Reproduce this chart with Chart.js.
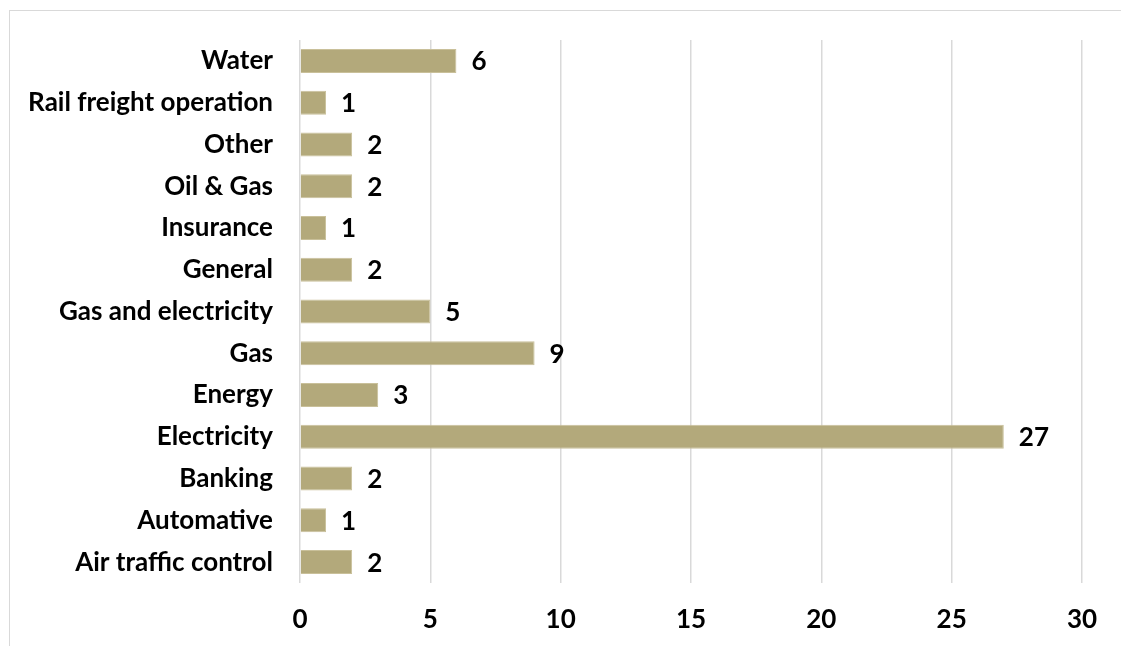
<!DOCTYPE html>
<html>
<head>
<meta charset="utf-8">
<script src="https://cdn.jsdelivr.net/npm/chart.js@4"></script>
<style>
  html, body { margin: 0; padding: 0; background: #fff; }
  #wrap { position: relative; width: 1121px; height: 646px; overflow: hidden; }
  #frame { position: absolute; left: 9px; top: 10px; width: 1130px; height: 660px;
           border-left: 1px solid #d9d9d9; border-top: 1px solid #d9d9d9; }
  canvas { position: absolute; left: 0; top: 0; }
</style>
</head>
<body>
<div id="wrap">
  <div id="frame"></div>
  <canvas id="chart" width="1121" height="646"></canvas>
</div>
<script>
const categories = [
  "Water",
  "Rail freight operation",
  "Other",
  "Oil & Gas",
  "Insurance",
  "General",
  "Gas and electricity",
  "Gas",
  "Energy",
  "Electricity",
  "Banking",
  "Automative",
  "Air traffic control",
];
const counts = [6, 1, 2, 2, 1, 2, 5, 9, 3, 27, 2, 1, 2];
const xTicks = [0, 5, 10, 15, 20, 25, 30];

const fontFamily = "Lato, 'Open Sans', sans-serif";

const barLabels = {
  id: "barLabels",
  afterDatasetsDraw(chart) {
    const ctx = chart.ctx;
    const meta = chart.getDatasetMeta(0);
    ctx.save();
    ctx.font = "bold 26px " + fontFamily;
    ctx.fillStyle = "#000";
    ctx.textAlign = "left";
    ctx.textBaseline = "middle";
    meta.data.forEach((bar, i) => {
      ctx.fillText(String(counts[i]), bar.x + 15, bar.y + 1);
    });
    ctx.restore();
  },
};

const ctx = document.getElementById("chart").getContext("2d");
new Chart(ctx, {
  type: "bar",
  data: {
    labels: categories,
    datasets: [
      {
        data: counts,
        backgroundColor: "#b3a97b",
        borderColor: "#c9c09a",
        borderWidth: 1,
        barPercentage: 0.575,
        categoryPercentage: 1,
      },
    ],
  },
  options: {
    indexAxis: "y",
    responsive: false,
    animation: false,
    layout: { padding: { top: 40, right: 39, left: 0, bottom: 0 } },
    plugins: { legend: { display: false }, tooltip: { enabled: false } },
    scales: {
      x: {
        min: 0,
        max: 30,
        afterBuildTicks: (scale) => {
          scale.ticks = xTicks.map((v) => ({ value: v }));
        },
        afterFit: (scale) => { scale.height = 63; },
        grid: { color: "#d9d9d9", lineWidth: 1.5, drawTicks: false },
        border: { display: false },
        ticks: {
          color: "#000",
          padding: 21,
          font: { family: fontFamily, size: 26, weight: "bold" },
        },
      },
      y: {
        afterFit: (scale) => { scale.width = 300; },
        grid: { display: false },
        border: { display: false },
        ticks: {
          color: "#000",
          padding: 19,
          font: { family: fontFamily, size: 26, weight: "bold" },
        },
      },
    },
  },
  plugins: [barLabels],
});
</script>
</body>
</html>
